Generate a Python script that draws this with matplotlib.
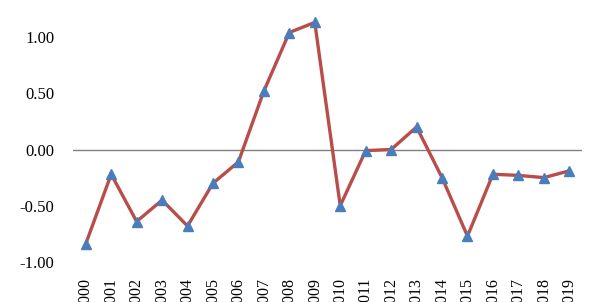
import matplotlib
matplotlib.use("Agg")
import matplotlib.pyplot as plt

years = [str(y) for y in range(2000, 2020)]
values = [-0.84, -0.22, -0.64, -0.45, -0.68, -0.30, -0.11, 0.52, 1.04, 1.13,
          -0.50, -0.01, 0.00, 0.20, -0.25, -0.77, -0.22, -0.23, -0.25, -0.19]
yticks = [-1.0, -0.5, 0.0, 0.5, 1.0]
ytick_labels = ["-1.00", "-0.50", "0.00", "0.50", "1.00"]

W, H = 602, 302
fig = plt.figure(figsize=(W / 100, H / 100), dpi=100)
# axes: x 73..582 px, y bottom at -1.0 (262 px), top at figure top
ax = fig.add_axes([73 / W, (H - 262) / H, (582 - 73) / W, 262 / H])

x = list(range(len(years)))
ax.axhline(0, color="#808080", lw=1.0, zorder=1)
ax.plot(x, values, color="#B84D4A", lw=2.4, marker="^", markersize=7,
        markerfacecolor="#4A7EBB", markeredgecolor="#4A7EBB", zorder=3)

ax.set_xlim(-0.5, len(years) - 0.5)
ax.set_ylim(-1.0, -1.0 + 2.0 * 262 / 225)

ax.set_yticks(yticks)
ax.set_yticklabels(ytick_labels, family="Liberation Serif", fontsize=12)
ax.set_xticks(x)
ax.set_xticklabels(years, rotation=90, family="Liberation Serif", fontsize=11.5,
                   va="top", ha="center")
ax.tick_params(axis="y", length=0, pad=13.5)
ax.tick_params(axis="x", length=0, pad=11.5)
for s in ax.spines.values():
    s.set_visible(False)

fig.savefig("out.png", dpi=100)
